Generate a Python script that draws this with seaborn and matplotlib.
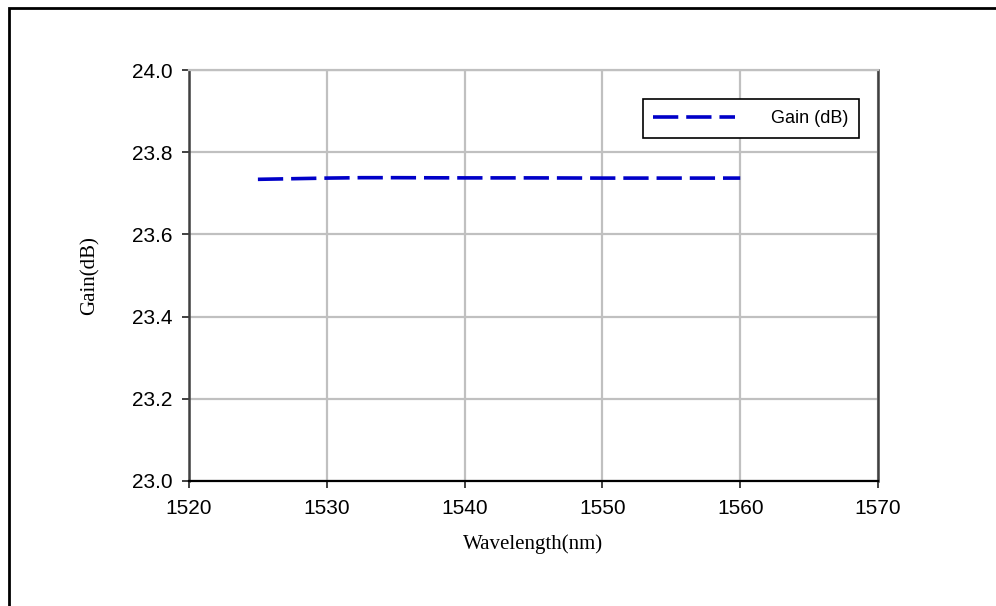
import matplotlib
matplotlib.use("Agg")
import matplotlib.pyplot as plt
import seaborn as sns
import pandas as pd
from matplotlib.patches import Rectangle

# ---- data ----
wavelength = [1525, 1527.5, 1530, 1532.5, 1535, 1540, 1545, 1550, 1555, 1560]
gain_db = [23.734, 23.7355, 23.737, 23.738, 23.738, 23.7375, 23.7375, 23.737, 23.737, 23.737]
x_ticks = [1520, 1530, 1540, 1550, 1560, 1570]
y_ticks = [23.0, 23.2, 23.4, 23.6, 23.8, 24.0]
series_name = "Gain (dB)"

df = pd.DataFrame({"Wavelength": wavelength, "Gain": gain_db, "series": series_name})

sns.set_style("white")
plt.rcParams["font.family"] = ["Liberation Sans", "DejaVu Sans"]
plt.rcParams["text.color"] = "black"
plt.rcParams["axes.labelcolor"] = "black"

fig = plt.figure(figsize=(9.96, 6.06), dpi=100)
ax = fig.add_axes([189 / 996, 1 - 481 / 606, (878 - 189) / 996, (481 - 70) / 606])

sns.lineplot(data=df, x="Wavelength", y="Gain", hue="series", palette=["#0000C8"],
             ax=ax, linewidth=2.6, legend=True)
for ln in ax.get_lines():
    ln.set_dashes((7, 2.2))
    ln.set_dash_capstyle("butt")

ax.set_xlim(1520, 1570)
ax.set_ylim(23.0, 24.0)
ax.set_xticks(x_ticks)
ax.set_yticks(y_ticks)
ax.set_yticklabels([f"{v:.1f}" for v in y_ticks])
ax.set_xticklabels([str(v) for v in x_ticks])

ax.grid(True, color="#C0C0C0", linewidth=1.6)
ax.set_axisbelow(True)

for side in ["left", "right"]:
    ax.spines[side].set_color("#404040")
    ax.spines[side].set_linewidth(1.8)
ax.spines["bottom"].set_color("black")
ax.spines["bottom"].set_linewidth(1.6)
ax.spines["top"].set_color("#C0C0C0")
ax.spines["top"].set_linewidth(1.6)
for s in ax.spines.values():
    s.set_visible(True)

ax.tick_params(axis="both", direction="out", length=5, width=1.4, color="#404040",
               labelsize=15, labelcolor="black")
ax.tick_params(axis="y", pad=7, left=True)
ax.tick_params(axis="x", pad=8, bottom=True)

ax.set_xlabel("Wavelength(nm)", fontfamily="Liberation Serif", fontsize=15, color="black")
ax.set_ylabel("Gain(dB)", fontfamily="Liberation Serif", fontsize=15, color="black")
ax.xaxis.set_label_coords(0.5, -(534 - 481) / 411)
ax.yaxis.set_label_coords(-(189 - 100) / 689, 0.5)

handles, labels = ax.get_legend_handles_labels()
leg = ax.legend(handles, labels, loc="upper right",
                bbox_to_anchor=((859 - 189) / 689, (481 - 99) / 411),
                fontsize=13, frameon=True, fancybox=False, framealpha=1,
                edgecolor="black", borderpad=0.6, handlelength=4.5,
                handletextpad=2.0, borderaxespad=0)
leg.get_frame().set_linewidth(1.2)
for t in leg.get_texts():
    t.set_color("black")
for h in leg.get_lines():
    h.set_dashes((7, 2.2))
    h.set_linewidth(2.6)

# outer frame (left and top edges visible)
fig.add_artist(Rectangle((9 / 996, -1), 5, 1 + (606 - 8) / 606, transform=fig.transFigure,
                         fill=False, edgecolor="black", linewidth=2, clip_on=False))

fig.savefig("out.png", dpi=100)
